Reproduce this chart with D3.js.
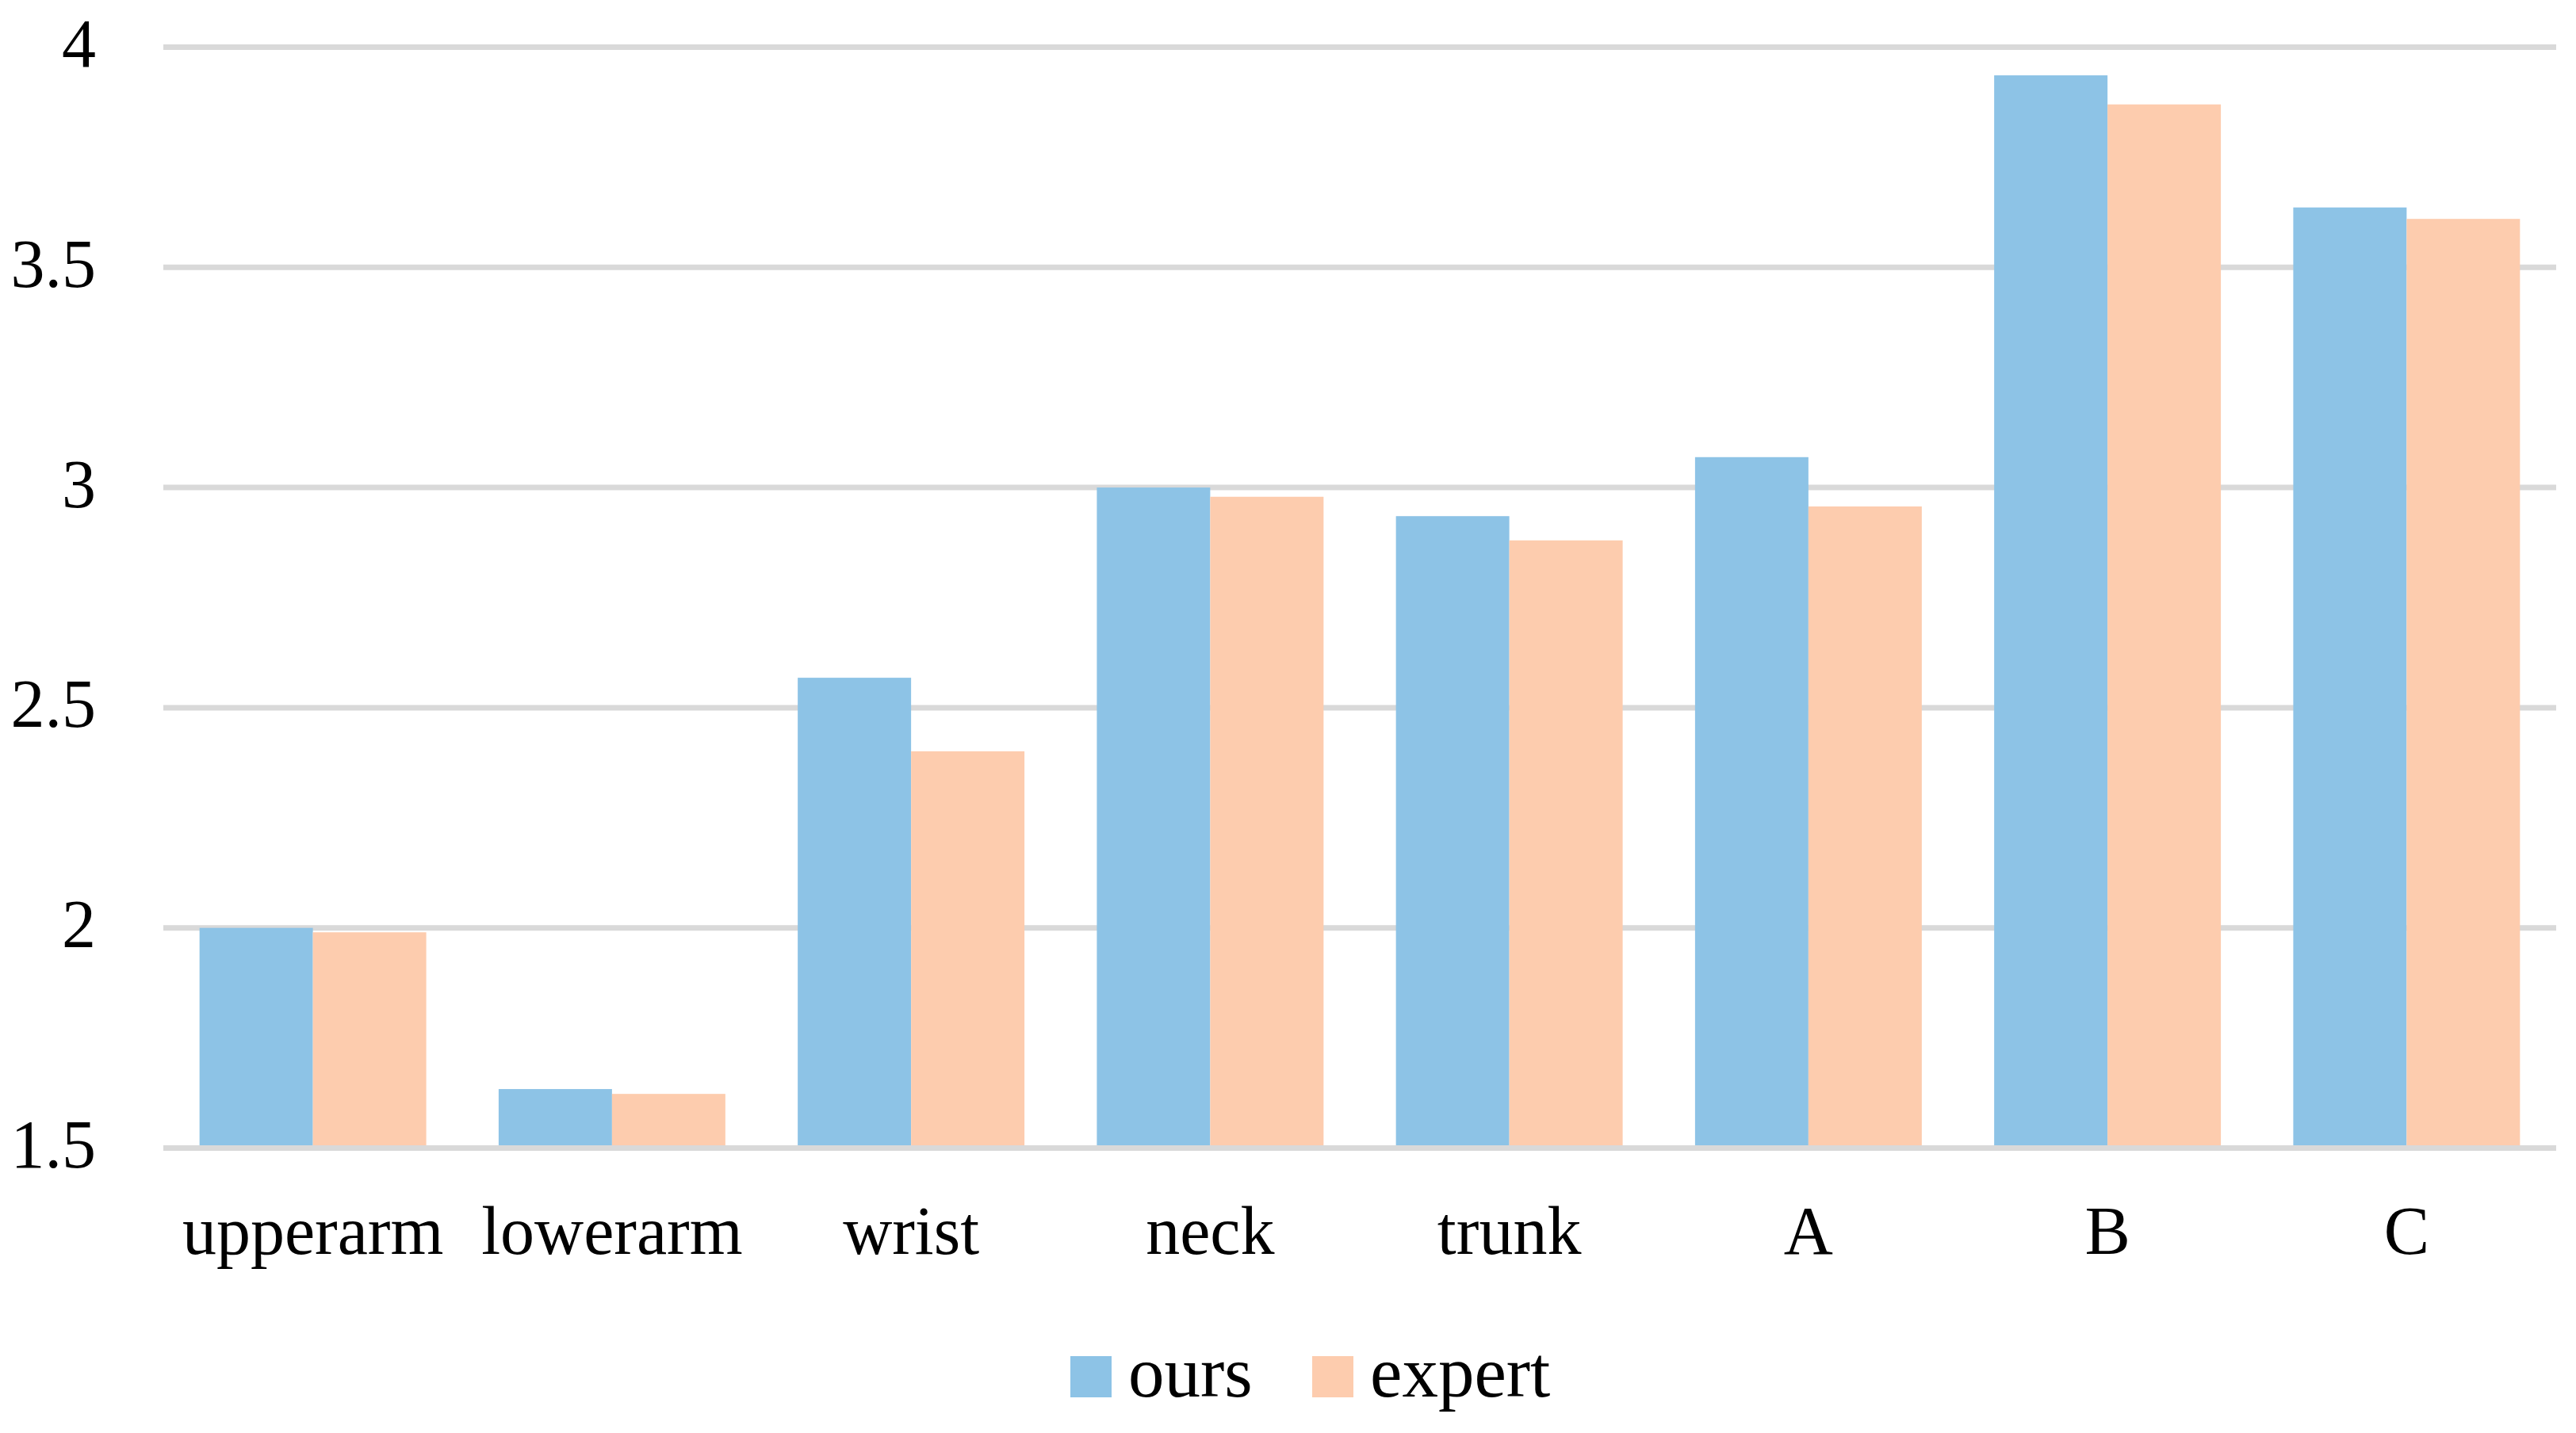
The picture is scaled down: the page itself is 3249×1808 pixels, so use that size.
<!DOCTYPE html>
<html>
<head>
<meta charset="utf-8">
<script src="https://cdn.jsdelivr.net/npm/d3@7"></script>
<style>
	body { margin: 0; background: #fff; }
	text { font-family: "Liberation Serif", "Times New Roman", serif; fill: #000; }
</style>
</head>
<body>
<div id="chart"></div>
<script>
// data
var categories = ["upperarm", "lowerarm", "wrist", "neck", "trunk", "A", "B", "C"];
var seriesNames = ["ours", "expert"];
var oursValues = [2.00, 1.634, 2.568, 3.00, 2.935, 3.069, 3.936, 3.636];
var expertValues = [1.99, 1.623, 2.401, 2.979, 2.880, 2.957, 3.870, 3.610];
var yTicks = [1.5, 2, 2.5, 3, 3.5, 4];
var colors = ["#8dc3e6", "#fdccae"];

var width = 3249, height = 1808;
var margin = {top: 59.5, right: 25, bottom: 359.5, left: 206};
var plotWidth = width - margin.left - margin.right,
		plotHeight = height - margin.top - margin.bottom;

var rows = categories.map(function(c, i){
	return {cat: c, values: [oursValues[i], expertValues[i]]};
});

var svg = d3.select("#chart")
	.append("svg")
	.attr("width", width)
	.attr("height", height);

var chart = svg.append("g")
	.attr("transform", "translate(" + margin.left + "," + margin.top + ")");

var xscale = d3.scaleBand()
	.domain(categories)
	.range([0, plotWidth])
	.paddingInner(0.242)
	.paddingOuter(0.121);

var xinner = d3.scaleBand()
	.domain(seriesNames)
	.range([0, xscale.bandwidth()]);

var yscale = d3.scaleLinear()
	.domain([1.5, 4])
	.range([plotHeight, 0]);

// gridlines
chart.selectAll(".grid")
	.data(yTicks)
	.enter()
	.append("line")
		.attr("class", "grid")
		.attr("x1", 0)
		.attr("x2", plotWidth)
		.attr("y1", function(d){ return yscale(d); })
		.attr("y2", function(d){ return yscale(d); })
		.attr("stroke", "#d9d9d9")
		.attr("stroke-width", 7);

// y axis labels (no line, no ticks)
var yAxis = d3.axisLeft(yscale)
	.tickValues(yTicks)
	.tickSize(0)
	.tickPadding(85)
	.tickFormat(d3.format("~g"));

var yGroup = chart.append("g").call(yAxis);
yGroup.select(".domain").remove();
yGroup.selectAll("text")
	.attr("dy", null)
	.attr("y", 24)
	.style("font-family", "'Liberation Serif', serif")
	.style("font-size", "86px")
	.attr("fill", "#000");

// bars
var groups = chart.selectAll(".cat")
	.data(rows)
	.enter()
	.append("g")
		.attr("class", "cat")
		.attr("transform", function(d){ return "translate(" + xscale(d.cat) + ",0)"; });

groups.selectAll("rect")
	.data(function(d){
		return d.values.map(function(v, i){ return {name: seriesNames[i], value: v, i: i}; });
	})
	.enter()
	.append("rect")
		.attr("x", function(d){ return xinner(d.name); })
		.attr("width", xinner.bandwidth())
		.attr("y", function(d){ return yscale(d.value); })
		.attr("height", function(d){ return yscale(1.5) - 3.5 - yscale(d.value); })
		.attr("fill", function(d){ return colors[d.i]; });

// x axis labels
var xAxis = d3.axisBottom(xscale)
	.tickSize(0)
	.tickPadding(0);

var xGroup = chart.append("g")
	.attr("transform", "translate(0," + plotHeight + ")")
	.call(xAxis);
xGroup.select(".domain").remove();
xGroup.selectAll("text")
	.attr("dy", null)
	.attr("y", 133)
	.style("font-family", "'Liberation Serif', serif")
	.style("font-size", "86px")
	.attr("fill", "#000");

// legend
var legendX = [1350, 1655];
var legend = svg.selectAll(".legend")
	.data(seriesNames)
	.enter()
	.append("g")
		.attr("class", "legend")
		.attr("transform", function(d, i){ return "translate(" + legendX[i] + ",1711)"; });

legend.append("rect")
	.attr("width", 52)
	.attr("height", 52)
	.attr("fill", function(d, i){ return colors[i]; });

legend.append("text")
	.attr("x", 73)
	.attr("y", 51)
	.style("font-size", "91px")
	.text(function(d){ return d; });
</script>
</body>
</html>
